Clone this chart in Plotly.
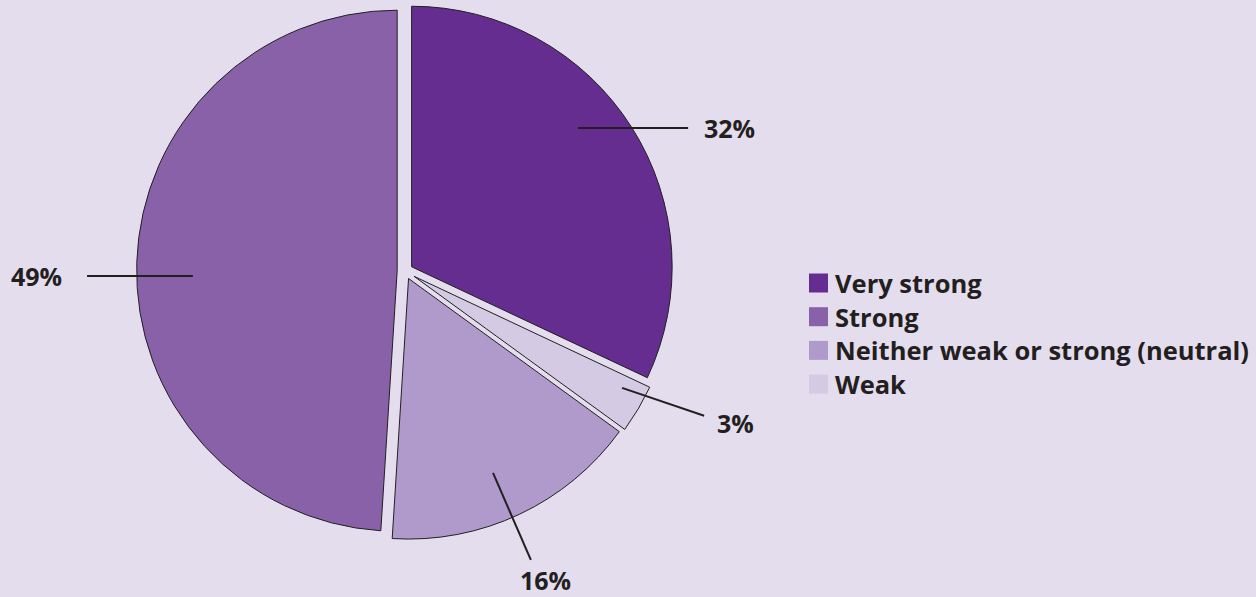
import math
import plotly.graph_objects as go

# ---- data -------------------------------------------------------------
categories = ["Very strong", "Strong", "Neither weak or strong (neutral)", "Weak"]
shares = [32, 49, 16, 3]
pct_labels = ["32%", "49%", "16%", "3%"]

# ---- styling ----------------------------------------------------------
colors = ["#652d90", "#8961a9", "#b09acb", "#d4cae3"]
pulls = [0.03, 0.03, 0.032, 0.04]

W, H = 1256, 597
BG = "#e4ddee"
INK = "#231f20"
FONT = "Open Sans"
CX, CY, R = 405.0, 270.5, 261.0          # pie centre / radius in pixels

# leader lines: (angle offset from slice bisector in deg, radius fraction)
lead_in = [(-7.1, 0.862), (-3.3, 0.816), (1.7, 0.849), (-2.2, 0.949)]
lead_out = [(5.7, 1.219), (-2.8, 1.223), (1.7, 1.214), (-4.7, 1.279)]
# label text placement relative to the outer end of each leader
label_place = [("left", 14, 0), ("right", -23, 0), ("center", 15, 20), ("left", 11, 7)]


def px(x):
    return x / W


def py(y):
    return 1 - y / H


max_pull = max(pulls)
half = R * (1 + max_pull)
dom_x = [max(0, (CX - half) / W), min(1, (CX + half) / W)]
dom_y = [max(0, 1 - (CY + half) / H), min(1, 1 - (CY - half) / H)]

fig = go.Figure(
    go.Pie(
        labels=categories,
        values=shares,
        sort=False,
        direction="counterclockwise",
        rotation=0,
        pull=pulls,
        marker=dict(colors=colors, line=dict(color=INK, width=1)),
        textinfo="none",
        hoverinfo="label+percent",
        showlegend=False,
        domain=dict(x=dom_x, y=dom_y),
    )
)

# slice bisectors (clockwise degrees from 12 o'clock), matching plotly's
# counterclockwise layout where the first slice ends at the start angle
total = float(sum(shares))
bisectors = []
a = shares[0] / total * 360
for v in shares:
    a0 = a - v / total * 360
    bisectors.append((a0 + a) / 2)
    a = a0


def polar(angle_deg, frac):
    t = math.radians(angle_deg)
    return CX + 260.0 * frac * math.sin(t), CY - 260.0 * frac * math.cos(t)


pct_font = dict(family=FONT, size=25, color=INK, weight="bold")
legend_font = dict(family=FONT, size=25.5, color=INK, weight="bold")

shapes = []
annotations = []
for b, (di, fi), (do, fo), (anchor, dx, dy), txt in zip(
    bisectors, lead_in, lead_out, label_place, pct_labels
):
    x0, y0 = polar(b + di, fi)
    x1, y1 = polar(b + do, fo)
    shapes.append(dict(type="line", xref="paper", yref="paper",
                       x0=px(x0), y0=py(y0), x1=px(x1), y1=py(y1),
                       line=dict(color=INK, width=2)))
    annotations.append(dict(xref="paper", yref="paper",
                            x=px(x1 + dx), y=py(y1 + dy),
                            xanchor=anchor, yanchor="middle",
                            text=txt, showarrow=False, font=pct_font))

# legend
LEG_X, LEG_Y, LEG_DY, BOX = 809, 283, 33.7, 19
for i, (cat, col) in enumerate(zip(categories, colors)):
    yc = LEG_Y + i * LEG_DY
    shapes.append(dict(type="rect", xref="paper", yref="paper",
                       x0=px(LEG_X), x1=px(LEG_X + BOX),
                       y0=py(yc - BOX / 2), y1=py(yc + BOX / 2),
                       fillcolor=col, line=dict(width=0)))
    annotations.append(dict(xref="paper", yref="paper",
                            x=px(LEG_X + BOX + 5), y=py(yc),
                            xanchor="left", yanchor="middle",
                            text=cat, showarrow=False, font=legend_font))

fig.update_layout(
    width=W, height=H,
    margin=dict(l=0, r=0, t=0, b=0),
    paper_bgcolor=BG, plot_bgcolor=BG,
    shapes=shapes, annotations=annotations,
)

fig.write_html("out.html")
